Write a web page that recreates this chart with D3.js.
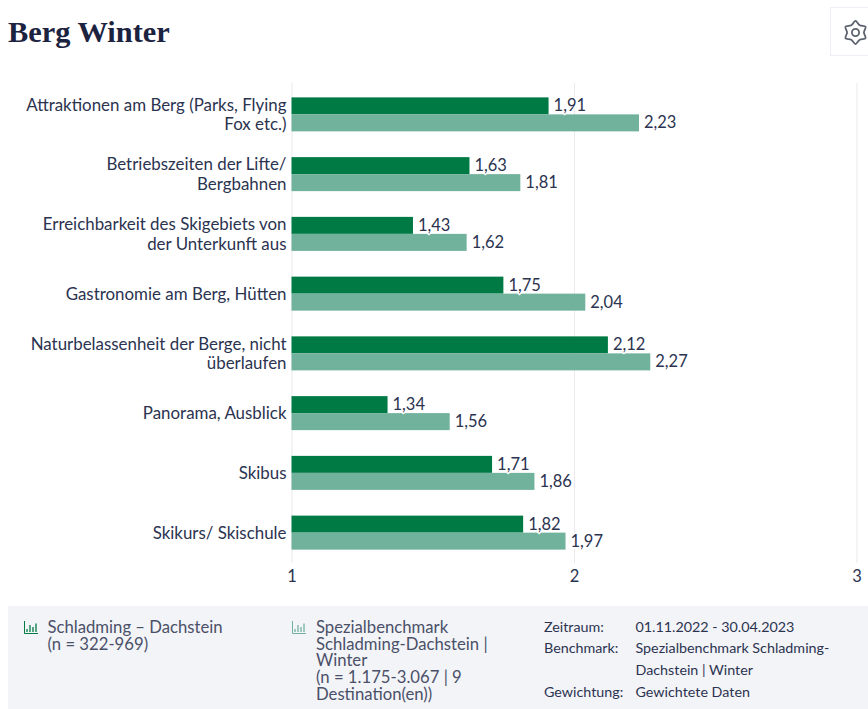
<!DOCTYPE html>
<html><head><meta charset="utf-8">
<script src="https://cdn.jsdelivr.net/npm/d3@7"></script>
<style>html,body{margin:0;padding:0;background:#fff;overflow:hidden}svg{display:block}text{font-family:Lato,sans-serif}</style>
</head><body><svg id="c" width="868" height="709"></svg>
<script>
const title="Berg Winter";
const categories=[["Attraktionen am Berg (Parks, Flying","Fox etc.)"],["Betriebszeiten der Lifte/","Bergbahnen"],["Erreichbarkeit des Skigebiets von","der Unterkunft aus"],["Gastronomie am Berg, Hütten"],["Naturbelassenheit der Berge, nicht","überlaufen"],["Panorama, Ausblick"],["Skibus"],["Skikurs/ Skischule"]];
const seriesA=[1.91,1.63,1.43,1.75,2.12,1.34,1.71,1.82];
const seriesB=[2.23,1.81,1.62,2.04,2.27,1.56,1.86,1.97];
const xTicks=[1,2,3];
const legendA=["Schladming – Dachstein","(n = 322-969)"];
const legendB=["Spezialbenchmark","Schladming-Dachstein |","Winter","(n = 1.175-3.067 | 9","Destination(en))"];
const metaKeys=[["Zeitraum:",0],["Benchmark:",1],["Gewichtung:",3]];
const metaVals=["01.11.2022 - 30.04.2023","Spezialbenchmark Schladming-","Dachstein | Winter","Gewichtete Daten"];
const colA="#007a45",colB="#70b29c",ink="#2b3350";

const svg=d3.select("#c");
svg.append("text").attr("x",8).attr("y",42).attr("fill","#1c2340")
  .style("font-family","'Liberation Serif',serif").style("font-size","30.4px").style("font-weight","700").text(title);

// settings button
const gb=svg.append("g");
gb.append("rect").attr("x",830.5).attr("y",7.5).attr("width",60).attr("height",48).attr("fill","#fff").attr("stroke","#eeeff5");
const gear=gb.append("g").attr("transform","translate(855.5,32.5)").attr("fill","none").attr("stroke","#5d6270").attr("stroke-width",1.8);
gear.append("circle").attr("r",3.6);
gear.append("path").attr("stroke-linejoin","round").attr("d",d3.lineRadial().curve(d3.curveCatmullRomClosed.alpha(0.5))(
  d3.range(12).map(i=>[i*Math.PI/6, i%2?8.4:11.6])));

const x=d3.scaleLinear().domain([1,3]).range([291.5,856.5]);
const y=d3.scaleBand().domain(d3.range(categories.length)).range([84.5,562.5]);
const h=17;

// grid + x axis
const ax=svg.append("g").attr("transform","translate(0,563)")
  .call(d3.axisBottom(x).tickValues(xTicks).tickFormat(d3.format("d")).tickSize(-480).tickPadding(7));
ax.select(".domain").remove();
ax.selectAll("line").attr("stroke","#e9e9ee");
ax.selectAll("text").attr("fill",ink).style("font-size","16.5px").style("font-family","Lato,sans-serif");

// bars
const rows=svg.selectAll("g.row").data(categories).join("g").attr("class","row");
function bars(vals,col,off){
  svg.append("g").selectAll("rect").data(vals).join("rect")
   .attr("x",x(1)).attr("y",(d,i)=>y(i)+y.bandwidth()/2+off)
   .attr("width",d=>x(d)-x(1)).attr("height",h).attr("fill",col);
}
bars(seriesA,colA,-h);
bars(seriesB,colB,0);
function labels(vals,off){
  svg.append("g").selectAll("text").data(vals).join("text")
   .attr("x",d=>x(d)+5).attr("y",(d,i)=>y(i)+y.bandwidth()/2+off)
   .attr("fill",ink).attr("stroke","#fff").attr("stroke-width",3).attr("paint-order","stroke")
   .style("font-size","16.5px").text(d=>String(d.toFixed(2)).replace(".",","));
}
labels(seriesA,-3);
labels(seriesB,14);

// category labels
rows.each(function(lines,i){
  const cy=y(i)+y.bandwidth()/2, lh=19.6;
  d3.select(this).selectAll("text").data(lines).join("text")
   .attr("x",286.5).attr("text-anchor","end").attr("fill",ink).style("font-size","16.9px")
   .attr("y",(d,k)=>cy+6+(k-(lines.length-1)/2)*lh).text(d=>d);
});

// footer
svg.append("rect").attr("x",8).attr("y",606).attr("width",860).attr("height",103).attr("fill","#f3f4f8");
function icon(px,py,col){
  const g=svg.append("g").attr("transform",`translate(${px},${py})`).attr("stroke",col).attr("fill","none");
  g.append("path").attr("d","M0.5,0V12.5H14");
  [[3,7],[6,3],[9,5],[12,1.5]].forEach(([a,b])=>g.append("path").attr("stroke-width",1.3).attr("d",`M${a},11V${b+1}`));
}
icon(24,621,colA); icon(292,621,colB);
function block(lines,px,py,lh,size,fill){
  svg.append("g").selectAll("text").data(lines).join("text").attr("x",px).attr("y",(d,i)=>py+i*lh)
    .attr("fill",fill).style("font-size",size).text(d=>d);
}
block(legendA,47.5,633,16.7,"16.7px","#4a5068");
block(legendB,316,633,16.7,"16.7px","#4a5068");
svg.append("g").selectAll("text").data(metaKeys).join("text").attr("x",544).attr("y",d=>631.5+d[1]*21.7)
  .attr("fill",ink).style("font-size","14.3px").text(d=>d[0]);
block(metaVals,635.5,631.5,21.7,"14.3px",ink);
</script></body></html>
